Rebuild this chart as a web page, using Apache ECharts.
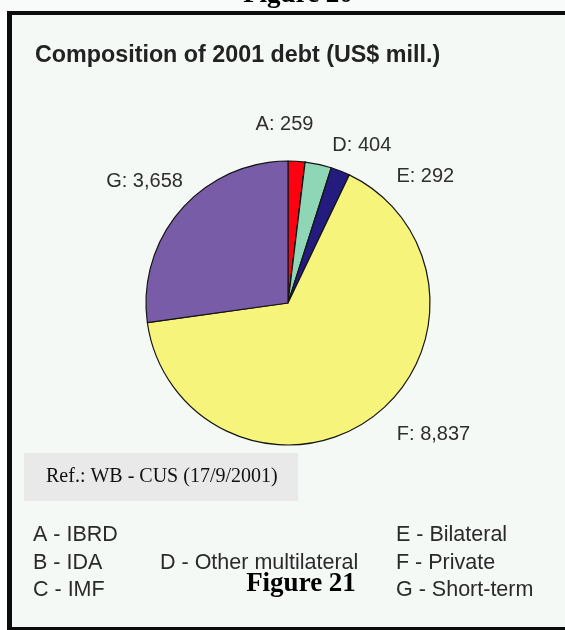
<!DOCTYPE html>
<html>
<head>
<meta charset="utf-8">
<title>Composition of 2001 debt</title>
<script src="https://cdn.jsdelivr.net/npm/echarts@6/dist/echarts.min.js"></script>
<style>
  html, body { margin: 0; padding: 0; background: #ffffff; }
  #chart { width: 565px; height: 630px; }
</style>
</head>
<body>
<div id="chart"></div>
<script>
// Debt composition, 2001 (US$ millions)
const codes = ['A', 'B', 'C', 'D', 'E', 'F', 'G'];
const creditors = ['IBRD', 'IDA', 'IMF', 'Other multilateral', 'Bilateral', 'Private', 'Short-term'];
const debt = [259, 0, 0, 404, 292, 8837, 3658];
const sliceColors = ['#ff0010', '#3a6fc4', '#c8c8c8', '#8fd6b6', '#241b7e', '#f7f47c', '#785ca8'];

const titleText = 'Composition of 2001 debt (US$ mill.)';
const sourceText = 'Ref.: WB - CUS (17/9/2001)';
const captionAbove = 'Figure 20';
const captionBelow = 'Figure 21';

// Label nudges (dx, dy) away from the default outside anchor
const labelNudge = {
  A: [-46, -37], D: [9, -19], E: [51, 5], F: [20, 17], G: [7, -28]
};

// Key grid: [column x, row y] per creditor
const keyCols = [33, 160, 396];
const keyRows = [535, 563, 590];
const keyCell = [[0, 0], [0, 1], [0, 2], [1, 1], [2, 0], [2, 1], [2, 2]];

const fmt = v => v.toLocaleString('en-US');

const pieData = codes.map((c, i) => ({
  name: c,
  value: debt[i],
  itemStyle: { color: sliceColors[i] },
  label: { show: debt[i] > 0 }
}));

const sans = 'Liberation Sans, Arial, Helvetica, sans-serif';
const serif = 'Liberation Serif, Times New Roman, serif';

const graphics = [
  // page band above the frame
  { type: 'rect', shape: { x: 0, y: 0, width: 565, height: 11 }, style: { fill: '#f8fbf9' }, z: 0 },
  // framed panel
  { type: 'rect', shape: { x: 7, y: 11, width: 600, height: 640 }, style: { fill: '#f5f9f6' }, z: 0 },
  { type: 'rect', shape: { x: 7, y: 11, width: 600, height: 4 }, style: { fill: '#0c0c0c' }, z: 1 },
  { type: 'rect', shape: { x: 7, y: 11, width: 5, height: 640 }, style: { fill: '#0c0c0c' }, z: 1 },
  { type: 'rect', shape: { x: 7, y: 627, width: 600, height: 4 }, style: { fill: '#0c0c0c' }, z: 1 },
  // captions
  { type: 'text', x: 298, y: 9, z: 5,
    style: { text: captionAbove, font: 'bold 27px ' + serif, fill: '#000', textAlign: 'center', textVerticalAlign: 'bottom' } },
  // source box
  { type: 'rect', shape: { x: 24, y: 453, width: 274, height: 48 }, style: { fill: '#e9e9e9' }, z: 2 },
  { type: 'text', x: 46, y: 477, z: 3,
    style: { text: sourceText, font: '20px ' + serif, fill: '#111', textVerticalAlign: 'middle' } }
];

codes.forEach((c, i) => {
  const [col, row] = keyCell[i];
  graphics.push({
    type: 'text', x: keyCols[col], y: keyRows[row], z: 3,
    style: { text: c + ' - ' + creditors[i], font: '21.5px ' + sans, fill: '#2a2a2a', textVerticalAlign: 'middle' }
  });
});

graphics.push({ type: 'text', x: 301, y: 584, z: 6,
  style: { text: captionBelow, font: 'bold 27px ' + serif, fill: '#000', textAlign: 'center', textVerticalAlign: 'middle' } });

const chart = echarts.init(document.getElementById('chart'), null, { renderer: 'canvas' });
chart.setOption({
  backgroundColor: '#ffffff',
  animation: false,
  title: {
    text: titleText,
    left: 35,
    top: 44,
    padding: 0,
    textStyle: { fontFamily: sans, fontSize: 23.3, fontWeight: 'bold', color: '#222' }
  },
  graphic: graphics,
  series: [{
    type: 'pie',
    center: [288, 303],
    radius: 142,
    startAngle: 90,
    clockwise: true,
    avoidLabelOverlap: false,
    data: pieData,
    itemStyle: { borderColor: '#141414', borderWidth: 1.2 },
    label: {
      position: 'outside',
      fontFamily: sans,
      fontSize: 20,
      color: '#2e2e2e',
      formatter: p => p.name + ': ' + fmt(p.value)
    },
    labelLine: { show: false, length: 0, length2: 0 },
    labelLayout: p => {
      const n = labelNudge[codes[p.dataIndex]] || [0, 0];
      return { dx: n[0], dy: n[1] };
    },
    emphasis: { disabled: true },
    z: 4
  }]
});
</script>
</body>
</html>
